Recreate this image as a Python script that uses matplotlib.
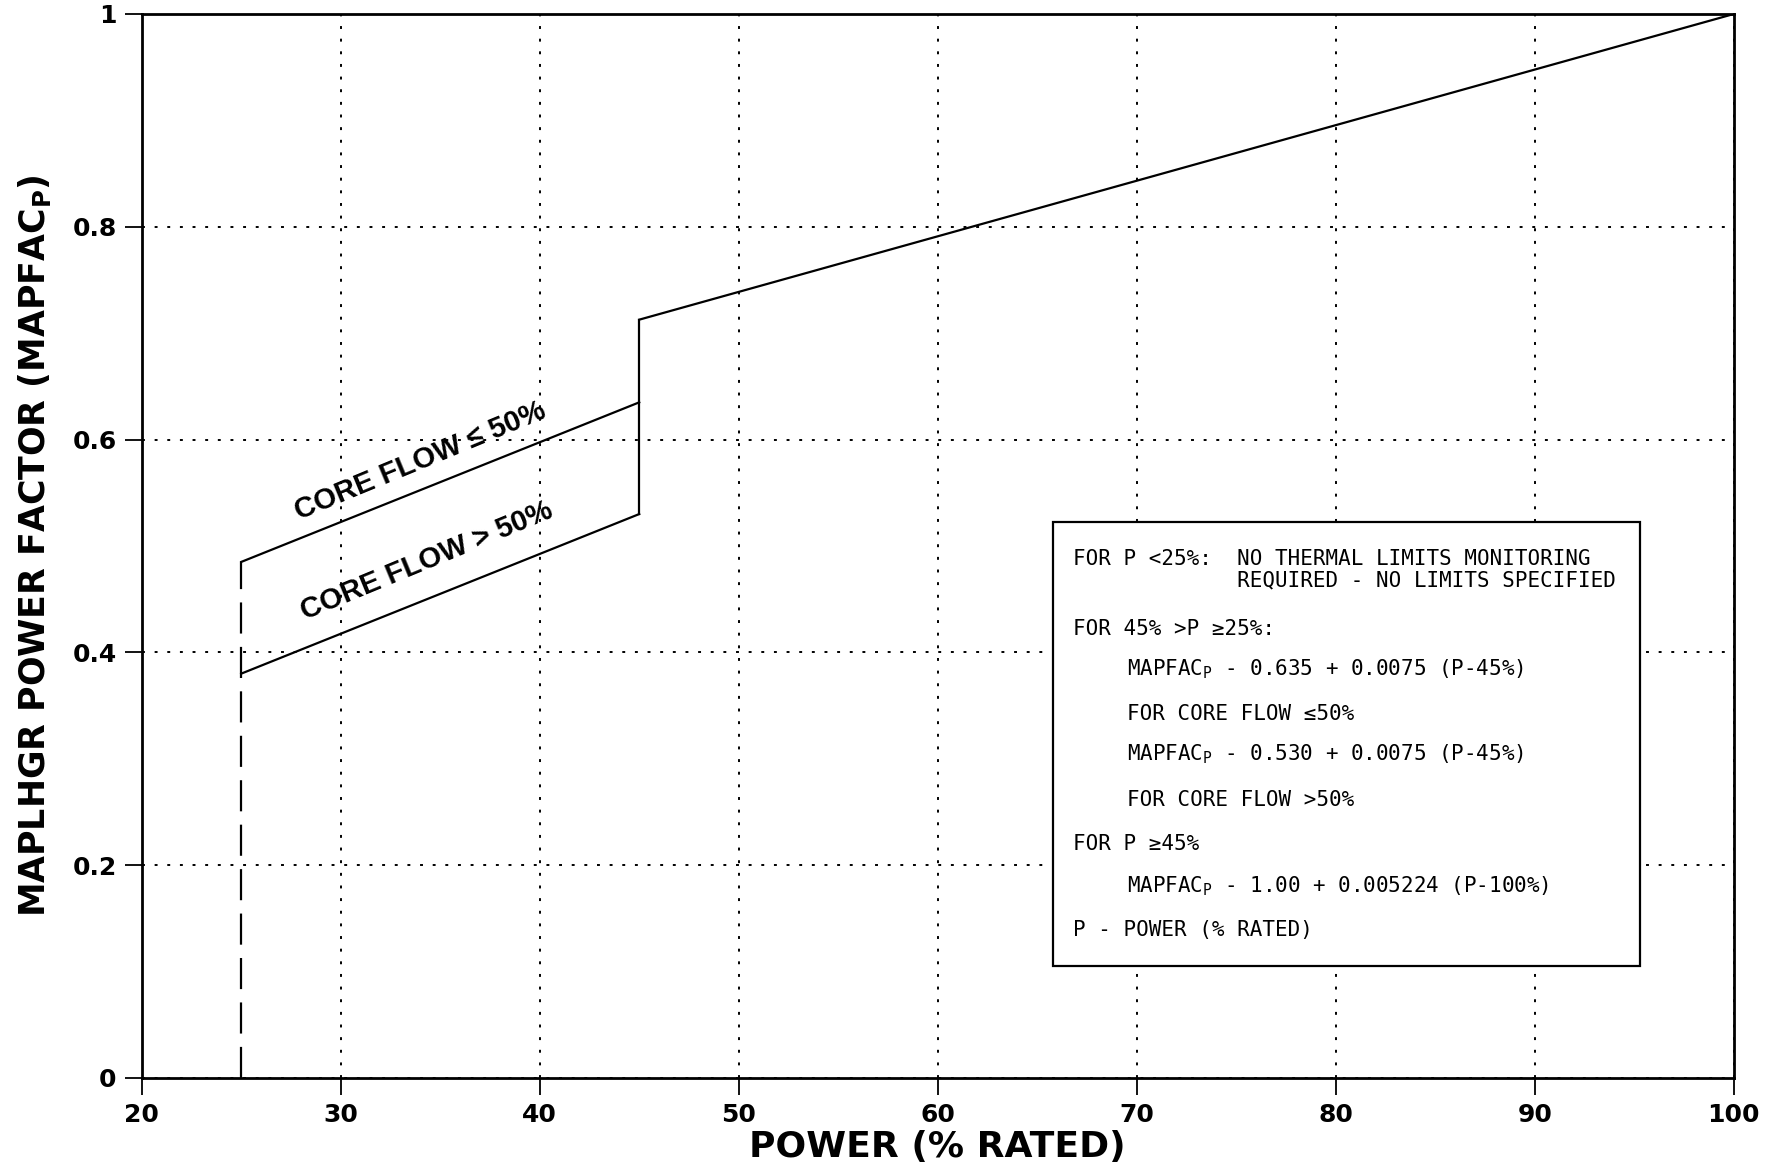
import numpy as np
import matplotlib
matplotlib.use('Agg')
import matplotlib.pyplot as plt
from matplotlib.patches import Rectangle

# curve data (power %, MAPFAC_P)
p_low = [25, 45]
flow_le50 = [0.485, 0.635]
flow_gt50 = [0.380, 0.530]
p_step = [45, 45]
step_vals = [0.530, 0.7127]
p_high = [45, 100]
high_vals = [0.7127, 1.0]
p_cut = [25, 25]
cut_vals = [0.0, 0.485]

xticks = [20, 30, 40, 50, 60, 70, 80, 90, 100]
yticks = [0, 0.2, 0.4, 0.6, 0.8, 1]
ytick_labels = ['0', '0.2', '0.4', '0.6', '0.8', '1']

box_lines = [
    (66.8, 0.488, 'FOR P <25%:  NO THERMAL LIMITS MONITORING'),
    (66.8, 0.468, '             REQUIRED - NO LIMITS SPECIFIED'),
    (66.8, 0.422, 'FOR 45% >P \u226525%:'),
    (69.5, 0.384, 'MAPFAC$_\\mathregular{P}$ - 0.635 + 0.0075 (P-45%)'),
    (69.5, 0.342, 'FOR CORE FLOW \u226450%'),
    (69.5, 0.304, 'MAPFAC$_\\mathregular{P}$ - 0.530 + 0.0075 (P-45%)'),
    (69.5, 0.261, 'FOR CORE FLOW >50%'),
    (66.8, 0.220, 'FOR P \u226545%'),
    (69.5, 0.180, 'MAPFAC$_\\mathregular{P}$ - 1.00 + 0.005224 (P-100%)'),
    (66.8, 0.139, 'P - POWER (% RATED)'),
]

fig = plt.figure(figsize=(17.71, 11.66), dpi=100)
ax = fig.add_axes([0.08, 0.0755, 0.899, 0.9125])

ax.plot(p_low, flow_le50, 'k-', linewidth=1.6)
ax.plot(p_low, flow_gt50, 'k-', linewidth=1.6)
ax.plot(p_step, step_vals, 'k-', linewidth=1.6)
ax.plot(p_high, high_vals, 'k-', linewidth=1.6)
ax.plot(p_cut, cut_vals, 'k', linestyle=(0, (14, 6)), linewidth=1.6)

ax.set_xlim(20, 100)
ax.set_ylim(0, 1)
ax.set_xticks(xticks)
ax.set_yticks(yticks)
ax.set_yticklabels(ytick_labels)
ax.grid(True, color='k', linestyle=(0, (1.5, 5)), linewidth=1.4)
for s in ax.spines.values():
    s.set_linewidth(2)
ax.tick_params(axis='both', direction='out', length=12, width=1.3, labelsize=18, pad=6)
for lbl in ax.get_xticklabels() + ax.get_yticklabels():
    lbl.set_fontweight('bold')

ax.set_xlabel('POWER (% RATED)', fontsize=26, fontweight='bold', labelpad=2)
ax.set_ylabel('MAPLHGR POWER FACTOR (MAPFAC$_\\mathregular{P}$)', fontsize=25,
              fontweight='bold', labelpad=14)

ax.text(34.0, 0.580, 'CORE FLOW \u2264 50%', rotation=22.5, fontsize=21,
        fontweight='bold', family='Liberation Sans', ha='center', va='center',
        rotation_mode='anchor')
ax.text(34.3, 0.486, 'CORE FLOW > 50%', rotation=22.5, fontsize=21,
        fontweight='bold', family='Liberation Sans', ha='center', va='center',
        rotation_mode='anchor')

ax.add_patch(Rectangle((65.8, 0.105), 29.5, 0.418, facecolor='white',
                       edgecolor='k', linewidth=1.6, zorder=3))
for x, y, t in box_lines:
    ax.text(x, y, t, fontsize=15, family='DejaVu Sans Mono', ha='left',
            va='center', zorder=4)

plt.savefig('out.png', dpi=100)
